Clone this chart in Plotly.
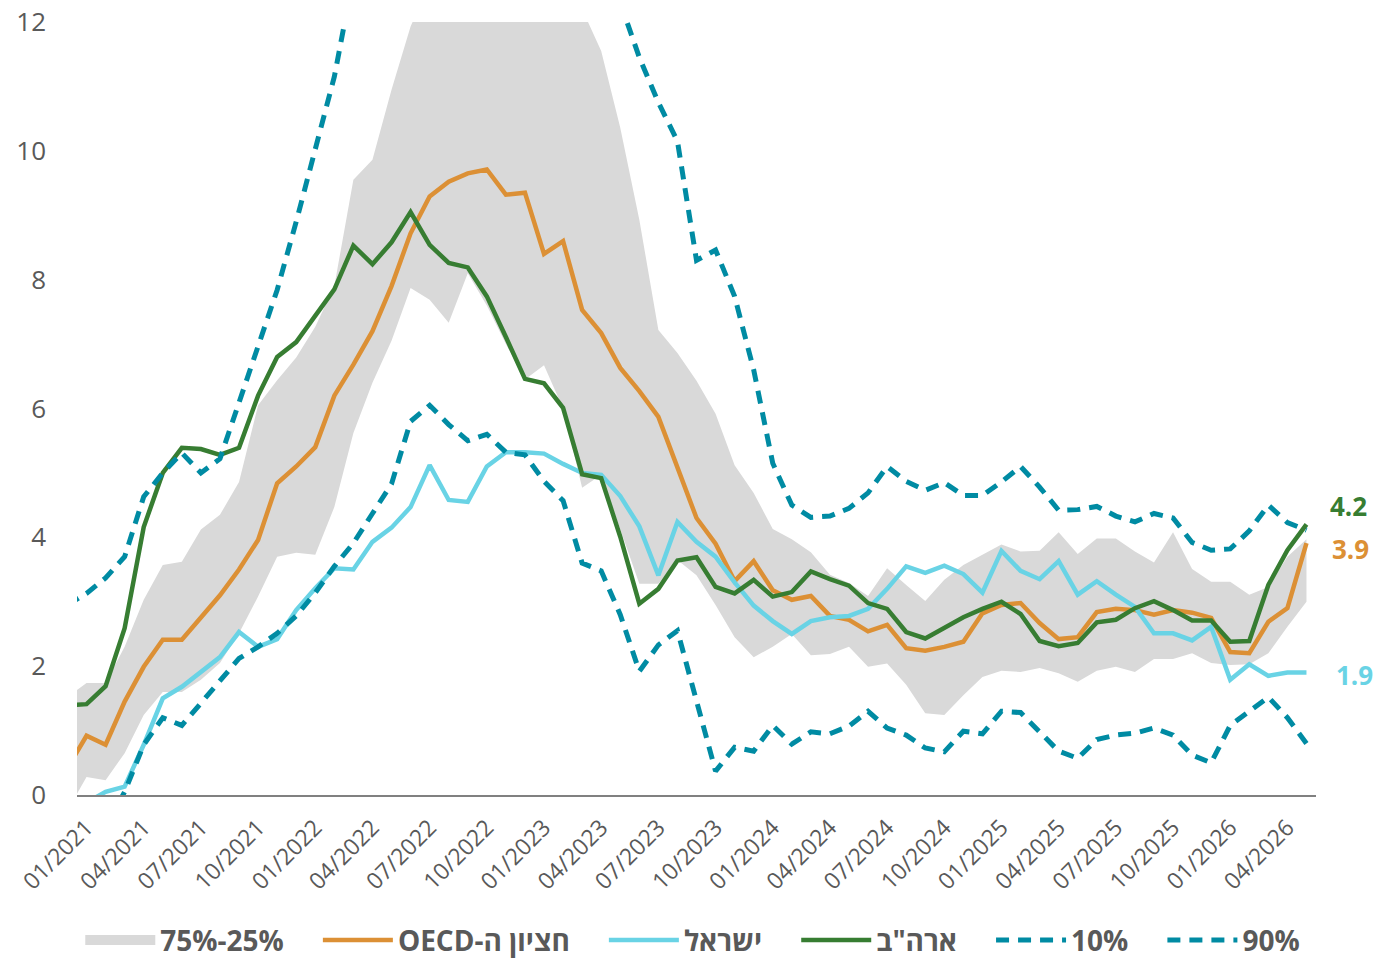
"""Inflation: Israel, US, OECD median and the OECD distribution (25%-75%, 10%, 90%)."""

import pandas as pd
import plotly.graph_objects as go

# monthly categories, 12/2020 .. 05/2026 (12/2020 only peeks in at the left edge)
months = pd.period_range("2020-12", "2026-05", freq="M")
x_idx = list(range(-1, len(months) - 1))

oecd_median = [
    0.42,
    0.92, 0.78, 1.45, 1.99, 2.41, 2.41, 2.75, 3.1, 3.5, 3.96,
    4.84, 5.1, 5.4, 6.2, 6.68, 7.2, 7.9, 8.72, 9.29, 9.52,
    9.65, 9.71, 9.32, 9.35, 8.4, 8.6, 7.53, 7.17, 6.63, 6.27,
    5.87, 5.1, 4.3, 3.9, 3.32, 3.63, 3.18, 3.03, 3.09, 2.78,
    2.72, 2.54, 2.64, 2.28, 2.24, 2.3, 2.38, 2.82, 2.95, 2.98,
    2.67, 2.42, 2.45, 2.84, 2.89, 2.87, 2.8, 2.87, 2.83, 2.75,
    2.22, 2.2, 2.69, 2.9, 3.91,
]
israel = [
    -0.4,
    -0.12, 0.05, 0.13, 0.78, 1.5, 1.68, 1.91, 2.14, 2.53, 2.3,
    2.42, 2.87, 3.21, 3.52, 3.5, 3.93, 4.15, 4.47, 5.12, 4.58,
    4.55, 5.1, 5.32, 5.32, 5.3, 5.14, 5.0, 4.97, 4.64, 4.17,
    3.41, 4.24, 3.93, 3.7, 3.3, 2.94, 2.7, 2.5, 2.7, 2.76,
    2.78, 2.89, 3.2, 3.55, 3.45, 3.56, 3.43, 3.14, 3.79, 3.48,
    3.35, 3.63, 3.11, 3.32, 3.11, 2.92, 2.51, 2.51, 2.4, 2.61,
    1.79, 2.03, 1.85, 1.9, 1.9,
]
usa = [
    1.39,
    1.41, 1.69, 2.59, 4.16, 5.0, 5.39, 5.37, 5.28, 5.39, 6.2,
    6.8, 7.03, 7.45, 7.85, 8.53, 8.24, 8.58, 9.05, 8.54, 8.26,
    8.19, 7.74, 7.11, 6.46, 6.39, 6.01, 4.98, 4.92, 4.01, 2.97,
    3.2, 3.64, 3.69, 3.23, 3.13, 3.34, 3.08, 3.15, 3.47, 3.35,
    3.25, 2.98, 2.89, 2.53, 2.43, 2.6, 2.76, 2.89, 3.0, 2.81,
    2.39, 2.31, 2.36, 2.68, 2.72, 2.9, 3.01, 2.87, 2.71, 2.71,
    2.38, 2.39, 3.26, 3.8, 4.2,
]
p10 = [
    -0.6,
    -0.5, -0.5, 0.05, 0.78, 1.2, 1.08, 1.43, 1.77, 2.12, 2.3,
    2.51, 2.78, 3.14, 3.55, 3.91, 4.37, 4.83, 5.8, 6.05, 5.75,
    5.5, 5.6, 5.32, 5.28, 4.87, 4.57, 3.6, 3.48, 2.8, 1.92,
    2.33, 2.55, 1.48, 0.37, 0.74, 0.68, 1.08, 0.79, 0.98, 0.95,
    1.07, 1.3, 1.04, 0.93, 0.73, 0.67, 0.99, 0.95, 1.3, 1.28,
    0.98, 0.68, 0.57, 0.86, 0.93, 0.96, 1.04, 0.93, 0.62, 0.5,
    1.08, 1.3, 1.52, 1.2, 0.8,
]
p90 = [
    2.95,
    3.13, 3.37, 3.7, 4.63, 5.0, 5.31, 5.0, 5.22, 6.1, 6.95,
    7.84, 8.9, 10.0, 11.15, 12.7, 13.3, 13.9, 14.4, 14.8, 15.0,
    15.1, 15.0, 14.8, 14.5, 14.1, 13.6, 13.2, 12.8, 12.3, 11.45,
    10.75, 10.15, 8.3, 8.46, 7.74, 6.6, 5.15, 4.5, 4.31, 4.33,
    4.45, 4.69, 5.1, 4.87, 4.73, 4.85, 4.65, 4.65, 4.86, 5.1,
    4.78, 4.42, 4.43, 4.48, 4.33, 4.24, 4.37, 4.3, 3.92, 3.8,
    3.82, 4.1, 4.5, 4.23, 4.11,
]
p25 = [
    -0.24,
    0.28, 0.23, 0.65, 1.24, 1.6, 1.6, 1.79, 2.05, 2.51, 3.08,
    3.7, 3.76, 3.73, 4.47, 5.62, 6.4, 7.05, 7.87, 7.69, 7.33,
    8.1, 7.6, 7.0, 6.45, 6.67, 6.0, 4.77, 4.97, 4.12, 3.28,
    3.28, 3.65, 3.41, 2.95, 2.45, 2.14, 2.3, 2.5, 2.17, 2.19,
    2.3, 1.99, 2.04, 1.71, 1.27, 1.24, 1.55, 1.83, 1.93, 1.91,
    1.97, 1.89, 1.76, 1.93, 1.99, 1.91, 2.11, 2.11, 2.2, 2.05,
    2.02, 2.03, 2.2, 2.61, 3.0,
]
p75 = [
    1.52,
    1.74, 1.74, 2.3, 3.03, 3.57, 3.62, 4.12, 4.35, 4.86, 6.05,
    6.44, 6.79, 7.27, 7.9, 9.55, 9.86, 10.95, 11.93, 12.6, 13.2,
    13.6, 13.8, 13.7, 13.4, 13.0, 12.6, 12.2, 11.55, 10.36, 8.93,
    7.22, 6.86, 6.43, 5.92, 5.12, 4.69, 4.13, 3.97, 3.77, 3.42,
    3.29, 3.09, 3.52, 3.26, 3.01, 3.34, 3.57, 3.73, 3.89, 3.78,
    3.79, 4.08, 3.74, 3.98, 3.98, 3.78, 3.61, 4.08, 3.51, 3.31,
    3.31, 3.11, 3.23, 3.7, 3.97,
]

# ticks every quarter, starting 01/2021
tick_idx = list(range(0, len(months) - 1, 3))
tick_text = [months[i + 1].strftime("%m/%Y") for i in tick_idx]

GREY_TXT = "#595959"
ORANGE = "#DC9035"
CYAN = "#69D3E5"
GREEN = "#377D32"
TEAL = "#008BA3"
BAND = "#D9D9D9"
FONT = "Open Sans, Liberation Sans, DejaVu Sans, sans-serif"

RLE, PDF = "\u202b", "\u202c"
GAP = "\u00a0" * 4  # room between legend entries (more makes the legend wrap)


def label(s, rtl=False, gap=True):
    if rtl:
        s = RLE + s + PDF
    return "<b>" + s + "</b>" + (GAP if gap else "")


fig = go.Figure()

# 25%-75% band
fig.add_trace(go.Scatter(
    x=x_idx, y=p25, mode="lines", line=dict(width=0),
    showlegend=False, hoverinfo="skip",
))
fig.add_trace(go.Scatter(
    x=x_idx, y=p75, mode="lines", line=dict(width=0),
    fill="tonexty", fillcolor=BAND, showlegend=False,
))
# legend swatch for the band
fig.add_trace(go.Scatter(
    x=[None], y=[None], mode="lines",
    line=dict(color=BAND, width=20),
    name=label("75%-25%"),
))

fig.add_trace(go.Scatter(
    x=x_idx, y=oecd_median, mode="lines",
    line=dict(color=ORANGE, width=4.5),
    name=label("חציון ה-OECD", rtl=True),
))
fig.add_trace(go.Scatter(
    x=x_idx, y=israel, mode="lines",
    line=dict(color=CYAN, width=4.5),
    name=label("ישראל", rtl=True),
))
fig.add_trace(go.Scatter(
    x=x_idx, y=usa, mode="lines",
    line=dict(color=GREEN, width=4.5),
    name=label('ארה"ב', rtl=True),
))
fig.add_trace(go.Scatter(
    x=x_idx, y=p10, mode="lines",
    line=dict(color=TEAL, width=5, dash="13px,9px"),
    name=label("10%"),
))
fig.add_trace(go.Scatter(
    x=x_idx, y=p90, mode="lines",
    line=dict(color=TEAL, width=5, dash="13px,9px"),
    name=label("90%", gap=False),
))

# end-of-line labels
for series, col, dx, dy in [(usa, GREEN, 22, 18), (oecd_median, ORANGE, 24, -6), (israel, CYAN, 28, -2)]:
    fig.add_annotation(
        x=x_idx[-1], y=series[-1], xref="x", yref="y",
        text=f"<b>{series[-1]:.1f}</b>", showarrow=False,
        xanchor="left", yanchor="middle", xshift=dx, yshift=dy,
        font=dict(size=26, color=col, family=FONT),
    )

# the page puts the figure 8px in from the top-left corner
fig.update_layout(
    width=1375, height=950,
    margin=dict(l=69, r=67, t=14, b=163, autoexpand=False),
    paper_bgcolor="white", plot_bgcolor="white",
    font=dict(family=FONT, color=GREY_TXT),
    showlegend=True,
    legend=dict(
        orientation="h", x=0.497, xanchor="center",
        y=-0.188, yanchor="middle",
        font=dict(size=28, color=GREY_TXT, family=FONT),
        itemwidth=70, traceorder="normal",
    ),
    hovermode=False,
)
fig.update_xaxes(
    range=[-0.5, len(months) - 1.5],
    tickvals=tick_idx, ticktext=tick_text, tickangle=-45,
    tickfont=dict(size=23, color=GREY_TXT),
    showgrid=False, zeroline=False,
    showline=True, linecolor="#808080", linewidth=2,
    ticks="", ticklabelstandoff=8, automargin=False,
    ticklabeloverflow="allow",
)
fig.update_yaxes(
    range=[0, 12], tickvals=list(range(0, 13, 2)),
    tickfont=dict(size=26, color=GREY_TXT),
    showgrid=False, zeroline=False, showline=False,
    ticks="", ticklabelstandoff=30, automargin=False,
    ticklabeloverflow="allow",
)

fig.write_html("out.html")
